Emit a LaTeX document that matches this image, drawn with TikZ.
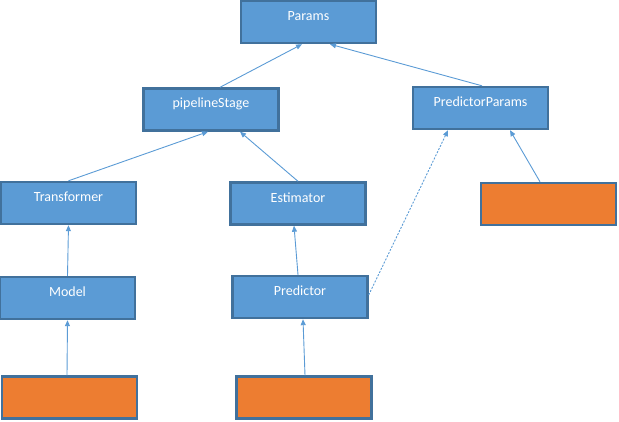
\documentclass[tikz,border=0pt]{standalone}
\usepackage{fontspec}
\setmainfont{Carlito}
\usetikzlibrary{arrows.meta}
\definecolor{boxblue}{HTML}{5B9BD5}
\definecolor{boxedge}{HTML}{41719C}
\definecolor{boxorange}{HTML}{ED7D31}
\begin{document}
\begin{tikzpicture}[x=1pt,y=-1pt,
  cls/.style={draw=boxedge,line width=2.4pt,fill=boxblue,inner sep=0pt,
    minimum width=135pt,minimum height=42pt},
  stub/.style={cls,fill=boxorange},
  txt/.style={label={[text=white,font=\fontsize{14}{16}\selectfont,yshift=6pt]center:#1}},
  arr/.style={draw=boxblue,line width=0.9pt,-{Triangle[length=6pt,width=5pt]}},
  dash arr/.style={arr,dash pattern=on 2pt off 1.5pt}]
\useasboundingbox (0,0) rectangle (619,422);
\node[cls,txt=Params] (params) at (308.5,22) {};
\node[cls,txt=pipelineStage] (pipe) at (211,109.5) {};
\node[cls,txt=PredictorParams] (pp) at (480.5,108) {};
\node[cls,txt=Transformer] (trans) at (68.5,203) {};
\node[cls,txt=Estimator] (est) at (298,203.5) {};
\node[cls,txt=Model] (model) at (67.5,298) {};
\node[cls,txt=Predictor] (pred) at (300,297) {};
\node[stub] (orr) at (548.5,204) {};
\node[stub] (obl) at (69.5,397.5) {};
\node[stub] (obm) at (304,397.5) {};
\draw[arr] ([xshift=9pt]pipe.north) -- ([xshift=-6.5pt]params.south);
\draw[arr] ([xshift=1.5pt]pp.north) -- ([xshift=21.5pt]params.south);
\draw[arr] (trans.north) -- ([xshift=-3pt]pipe.south);
\draw[arr] (est.north) -- ([xshift=29pt]pipe.south);
\draw[arr] (model.north) -- (trans.south);
\draw[arr] ([xshift=-2pt]pred.north) -- ([xshift=-4pt]est.south);
\draw[dash arr] ([yshift=2pt]pred.east) -- ([xshift=-32.5pt]pp.south);
\draw[arr] ([xshift=-8.5pt]orr.north) -- ([xshift=29.5pt]pp.south);
\draw[arr] ([xshift=-2.5pt]obl.north) -- (model.south);
\draw[arr] ([xshift=1pt]obm.north) -- ([xshift=3pt]pred.south);
\end{tikzpicture}
\end{document}
